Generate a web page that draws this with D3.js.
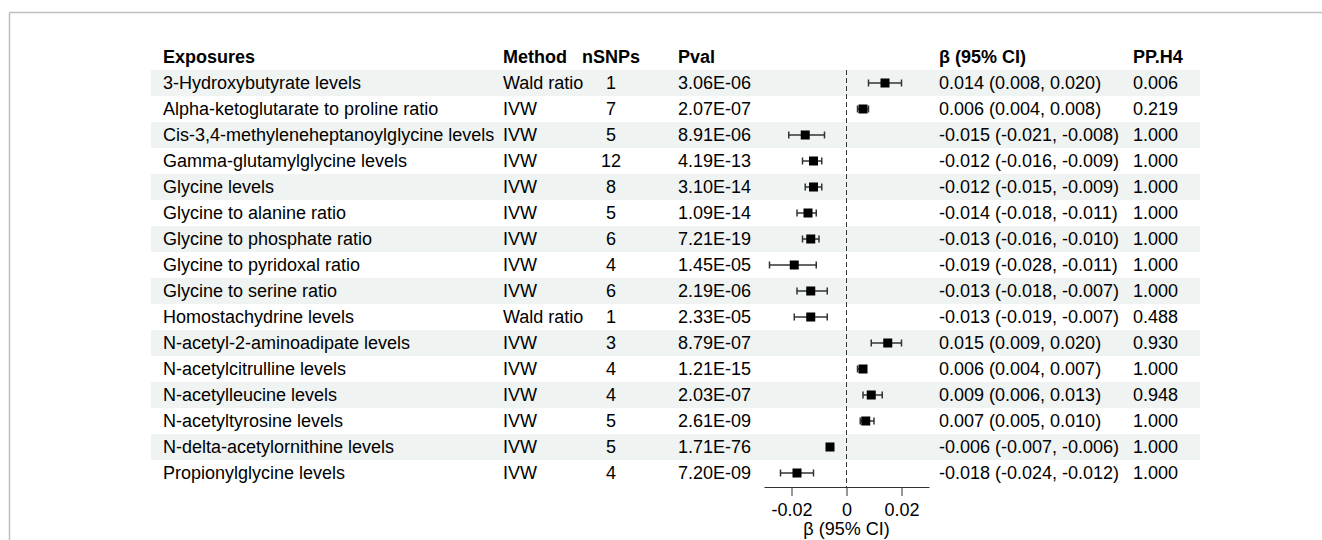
<!DOCTYPE html>
<html>
<head>
<meta charset="utf-8">
<script src="https://cdn.jsdelivr.net/npm/d3@7"></script>
<style>
  body { margin: 0; background: #fff; }
  svg { display: block; font-family: "Liberation Sans", Arial, sans-serif; }
</style>
</head>
<body>
<svg id="chart"></svg>
<script>
// data
var exposures = ["3-Hydroxybutyrate levels", "Alpha-ketoglutarate to proline ratio",
  "Cis-3,4-methyleneheptanoylglycine levels", "Gamma-glutamylglycine levels", "Glycine levels",
  "Glycine to alanine ratio", "Glycine to phosphate ratio", "Glycine to pyridoxal ratio",
  "Glycine to serine ratio", "Homostachydrine levels", "N-acetyl-2-aminoadipate levels",
  "N-acetylcitrulline levels", "N-acetylleucine levels", "N-acetyltyrosine levels",
  "N-delta-acetylornithine levels", "Propionylglycine levels"];
var methods = ["Wald ratio", "IVW", "IVW", "IVW", "IVW", "IVW", "IVW", "IVW", "IVW",
  "Wald ratio", "IVW", "IVW", "IVW", "IVW", "IVW", "IVW"];
var nsnps = [1, 7, 5, 12, 8, 5, 6, 4, 6, 1, 3, 4, 4, 5, 5, 4];
var pvals = ["3.06E-06", "2.07E-07", "8.91E-06", "4.19E-13", "3.10E-14", "1.09E-14", "7.21E-19",
  "1.45E-05", "2.19E-06", "2.33E-05", "8.79E-07", "1.21E-15", "2.03E-07", "2.61E-09",
  "1.71E-76", "7.20E-09"];
var beta  = [0.014, 0.006, -0.015, -0.012, -0.012, -0.014, -0.013, -0.019, -0.013, -0.013,
  0.015, 0.006, 0.009, 0.007, -0.006, -0.018];
var lower = [0.008, 0.004, -0.021, -0.016, -0.015, -0.018, -0.016, -0.028, -0.018, -0.019,
  0.009, 0.004, 0.006, 0.005, -0.007, -0.024];
var upper = [0.020, 0.008, -0.008, -0.009, -0.009, -0.011, -0.010, -0.011, -0.007, -0.007,
  0.020, 0.007, 0.013, 0.010, -0.006, -0.012];
var pph4 = ["0.006", "0.219", "1.000", "1.000", "1.000", "1.000", "1.000", "1.000", "1.000",
  "0.488", "0.930", "1.000", "0.948", "1.000", "1.000", "1.000"];
var headers = ["Exposures", "Method", "nSNPs", "Pval", "", "\u03b2 (95% CI)", "PP.H4"];
var axisTicks = [-0.02, 0, 0.02];
var axisDomain = [-0.03, 0.03];

var width = 1322, height = 540;
var svg = d3.select("#chart").attr("width", width).attr("height", height);

// frame lines at top and left
svg.append("line").attr("x1", 9.5).attr("x2", width).attr("y1", 12.5).attr("y2", 12.5)
	.attr("stroke", "#c0c0c0").attr("stroke-width", 1.5);
svg.append("line").attr("x1", 9.5).attr("x2", 9.5).attr("y1", 12.5).attr("y2", height)
	.attr("stroke", "#c0c0c0").attr("stroke-width", 1.5);

var fmt3 = d3.formatLocale({decimal: ".", thousands: ",", grouping: [3], currency: ["", ""], minus: "-"}).format(".3f");
var fmt2 = d3.formatLocale({decimal: ".", thousands: ",", grouping: [3], currency: ["", ""], minus: "-"}).format(".2f");
var ciText = beta.map(function(b, i) {
	return fmt3(b) + " (" + fmt3(lower[i]) + ", " + fmt3(upper[i]) + ")";
});

var tableLeft = 151, tableRight = 1200;
var headTop = 44;
var y = d3.scaleBand().domain(d3.range(exposures.length)).range([70, 486]);
var x = d3.scaleLinear().domain(axisDomain).range([764, 929]);

var colX = {exp: 163, method: 503, nsnp: 611, pval: 678, ci: 939, pp: 1133};

// alternating row background
svg.append("g").selectAll("rect")
	.data(d3.range(exposures.length).filter(function(i) { return i % 2 === 0; }))
	.join("rect")
	.attr("x", tableLeft).attr("width", tableRight - tableLeft)
	.attr("y", function(i) { return y(i); }).attr("height", y.bandwidth())
	.attr("fill", "#eff3f2");

// header
var head = svg.append("g").attr("font-size", 18).attr("font-weight", "bold").attr("fill", "#000");
var headPos = [colX.exp, colX.method, colX.nsnp - 29, colX.pval, 0, colX.ci, colX.pp];
headers.forEach(function(h, i) {
	if (!h) return;
	head.append("text").attr("x", headPos[i]).attr("y", headTop + 13).attr("dy", "0.35em").text(h);
});

// table cells
var body = svg.append("g").attr("font-size", 18).attr("fill", "#000");
var rows = body.selectAll("g").data(d3.range(exposures.length)).join("g")
	.attr("transform", function(i) { return "translate(0," + (y(i) + y.bandwidth() / 2) + ")"; });
rows.append("text").attr("x", colX.exp).attr("dy", "0.35em").text(function(i) { return exposures[i]; });
rows.append("text").attr("x", colX.method).attr("dy", "0.35em").text(function(i) { return methods[i]; });
rows.append("text").attr("x", colX.nsnp).attr("dy", "0.35em").attr("text-anchor", "middle").text(function(i) { return nsnps[i]; });
rows.append("text").attr("x", colX.pval).attr("dy", "0.35em").text(function(i) { return pvals[i]; });
rows.append("text").attr("x", colX.ci).attr("dy", "0.35em").text(function(i) { return ciText[i]; });
rows.append("text").attr("x", colX.pp).attr("dy", "0.35em").text(function(i) { return pph4[i]; });

// reference line at 0
svg.append("line")
	.attr("x1", x(0)).attr("x2", x(0)).attr("y1", 70).attr("y2", 487)
	.attr("stroke", "#333").attr("stroke-width", 1).attr("stroke-dasharray", "5,3");

// estimates and CIs
var ci = svg.append("g").selectAll("g").data(d3.range(beta.length)).join("g")
	.attr("transform", function(i) { return "translate(0," + (y(i) + y.bandwidth() / 2) + ")"; });
ci.append("line").attr("x1", function(i) { return x(lower[i]); }).attr("x2", function(i) { return x(upper[i]); })
	.attr("stroke", "#333").attr("stroke-width", 1.5);
ci.append("line").attr("x1", function(i) { return x(lower[i]); }).attr("x2", function(i) { return x(lower[i]); })
	.attr("y1", -3.5).attr("y2", 3.5).attr("stroke", "#333").attr("stroke-width", 1.5);
ci.append("line").attr("x1", function(i) { return x(upper[i]); }).attr("x2", function(i) { return x(upper[i]); })
	.attr("y1", -3.5).attr("y2", 3.5).attr("stroke", "#333").attr("stroke-width", 1.5);
ci.append("rect").attr("x", function(i) { return x(beta[i]) - 4.5; }).attr("y", -4.5)
	.attr("width", 9).attr("height", 9).attr("fill", "#000");

// x axis
var axis = svg.append("g").attr("transform", "translate(0,487)")
	.call(d3.axisBottom(x).tickValues(axisTicks).tickSize(9).tickPadding(7).tickSizeOuter(0)
		.tickFormat(function(d) { return d === 0 ? "0" : fmt2(d); }));
axis.select(".domain").attr("stroke", "#333");
axis.selectAll(".tick line").attr("stroke", "#333");
axis.selectAll(".tick text").attr("font-size", 18).attr("fill", "#000")
	.attr("font-family", "Liberation Sans, Arial, sans-serif");

svg.append("text").attr("x", x(0)).attr("y", 535).attr("text-anchor", "middle")
	.attr("font-size", 18).attr("fill", "#000").text("\u03b2 (95% CI)");
</script>
</body>
</html>
